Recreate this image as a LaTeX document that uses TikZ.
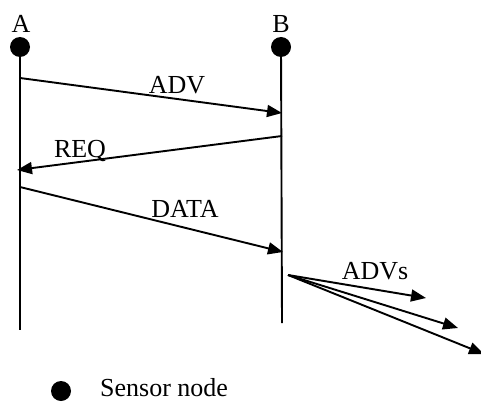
\documentclass[tikz,border=0pt]{standalone}
\usepackage{fontspec}
\setmainfont{Liberation Serif}
\usetikzlibrary{arrows.meta,positioning}

\tikzset{
  sensor/.style={circle,fill=black,inner sep=0pt,minimum size=20pt},
  lifeline/.style={line width=1.9pt},
  msg/.style={line width=1.9pt,-{Triangle[length=15pt,width=12pt]}},
  lbl/.style={anchor=base,inner sep=0pt}
}

\begin{document}
\begin{tikzpicture}[x=1pt,y=-1pt,font=\fontsize{26}{30}\selectfont]
    \useasboundingbox (0,0) rectangle (481,401);
    % the two nodes and their time lines
    \node[sensor] (nodeA) at (20,47) {};
    \node[sensor] (nodeB) at (281,47) {};
    \node[lbl] (nameA) at (21,33) {A};
    \node[lbl] (nameB) at (281,33) {B};
    \coordinate (endA) at (20,330);
    \coordinate (endB) at (282,323);
    \draw[lifeline] (nodeA) -- (endA);
    \draw[lifeline] (nodeB.center) -- (endB);

    % messages
    \coordinate (advFrom) at (20,78);
    \coordinate (advTo) at (282,113);
    \coordinate (reqFrom) at (282,136);
    \coordinate (reqTo) at (17,170);
    \coordinate (dataFrom) at (20,187);
    \coordinate (dataTo) at (283,252);
    \draw[msg] (advFrom) -- (advTo);
    \draw[msg] (reqFrom) -- (reqTo);
    \draw[msg] (dataFrom) -- (dataTo);
    \node[lbl] (advLabel) at (177,94) {ADV};
    \node[lbl] (reqLabel) at (80,157) {REQ};
    \node[lbl] (dataLabel) at (185,217) {DATA};

    % broadcast of advertisements
    \coordinate (advsFrom) at (288,275);
    \coordinate (advsTo1) at (426,298);
    \coordinate (advsTo2) at (458,328);
    \coordinate (advsTo3) at (484,354);
    \foreach \t in {1,2,3}
      \draw[msg] (advsFrom) -- (advsTo\t);
    \node[lbl] (advsLabel) at (375,279) {ADVs};

    % legend
    \node[sensor] (legendDot) at (61,391) {};
    \node[lbl,anchor=base west] (legendText) at (100,396) {Sensor node};
\end{tikzpicture}
\end{document}
